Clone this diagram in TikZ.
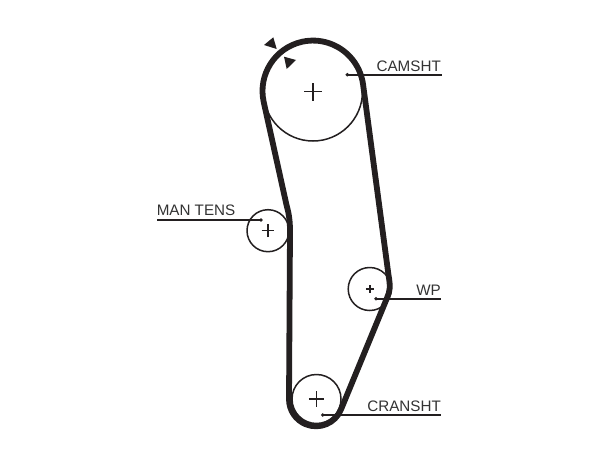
\documentclass[tikz,border=0pt]{standalone}
\usepackage{fontspec}
\setmainfont{Liberation Sans}
\tikzset{
  pulley/.style={circle,draw=inkc,line width=1.5pt,inner sep=0pt,outer sep=0pt},
  belt/.style={draw=inkc,line width=5.8pt,line join=round},
  leader/.style={draw=inkc,line width=1.7pt},
  labeltext/.style={text=textc,inner sep=0pt,anchor=base east,font=\fontsize{15.2}{18}\selectfont},
  crossmark/.style={draw=inkc,line width=1.4pt},
  markerfill/.style={fill=inkc,draw=none},
  enddot/.style={fill=inkc,draw=none}
}
\definecolor{inkc}{HTML}{231F20}
\definecolor{textc}{HTML}{333333}
\usetikzlibrary{calc}
\newcommand{\crossat}[3][1.4pt]{\draw[crossmark,line width=#1] ($(#2)+(-#3pt,0)$) -- ($(#2)+(#3pt,0)$) ($(#2)+(0,-#3pt)$) -- ($(#2)+(0,#3pt)$);}
\begin{document}
\begin{tikzpicture}[x=1pt,y=1pt]
\useasboundingbox (0,0) rectangle (612,459);
\fill[white] (0,0) rectangle (612,459);
% pulleys
\node[pulley,minimum size=99pt] (cam) at (313,367.5) {};
\node[pulley,minimum size=42pt] (tens) at (268,228.3) {};
\node[pulley,minimum size=43pt] (wp) at (369.7,170) {};
\node[pulley,minimum size=49pt] (crank) at (316.5,60) {};
% crosses
\crossat{cam}{9}
\crossat{tens}{6.3}
\crossat[1.7pt]{wp}{3.8}
\crossat{crank}{7.7}
% belt
\draw[belt] (263.7,357) arc[start angle=192.5,end angle=7.6,radius=50.5]
  -- (388.5,184)
  .. controls (390.6,172) and (390,168) .. (387,161)
  -- (341,49.5)
  arc[start angle=-22.2,end angle=-180,radius=27]
  -- (290,228)
  .. controls (290,238) and (289,245) .. (286.5,254)
  -- cycle;
% timing marks
\fill[markerfill] (273.3,421.7) -- (264,414) -- (276.7,410) -- cycle;
\fill[markerfill] (284,402.3) -- (296,399) -- (286.7,390) -- cycle;
% labels and leaders
\coordinate (camdot) at (347.3,384.3);
\coordinate (camend) at (441.7,384.3);
\coordinate (tensdot) at (261,239);
\coordinate (tensend) at (157,239);
\coordinate (wpdot) at (376,160.3);
\coordinate (wpend) at (441,160.3);
\coordinate (crankdot) at (322.7,44);
\coordinate (crankend) at (441,44);
\draw[leader] (camdot) -- (camend);
\draw[leader] (tensdot) -- (tensend);
\draw[leader] (wpdot) -- (wpend);
\draw[leader] (crankdot) -- (crankend);
\foreach \d in {camdot,tensdot,wpdot,crankdot} \fill[enddot] (\d) circle (1.9pt);
\node[labeltext] (camlabel) at (441,388) {CAMSHT};
\node[labeltext] (tenslabel) at (235.5,244) {MAN TENS};
\node[labeltext] (wplabel) at (441,164) {WP};
\node[labeltext] (cranklabel) at (441,47.5) {CRANSHT};
\end{tikzpicture}
\end{document}
